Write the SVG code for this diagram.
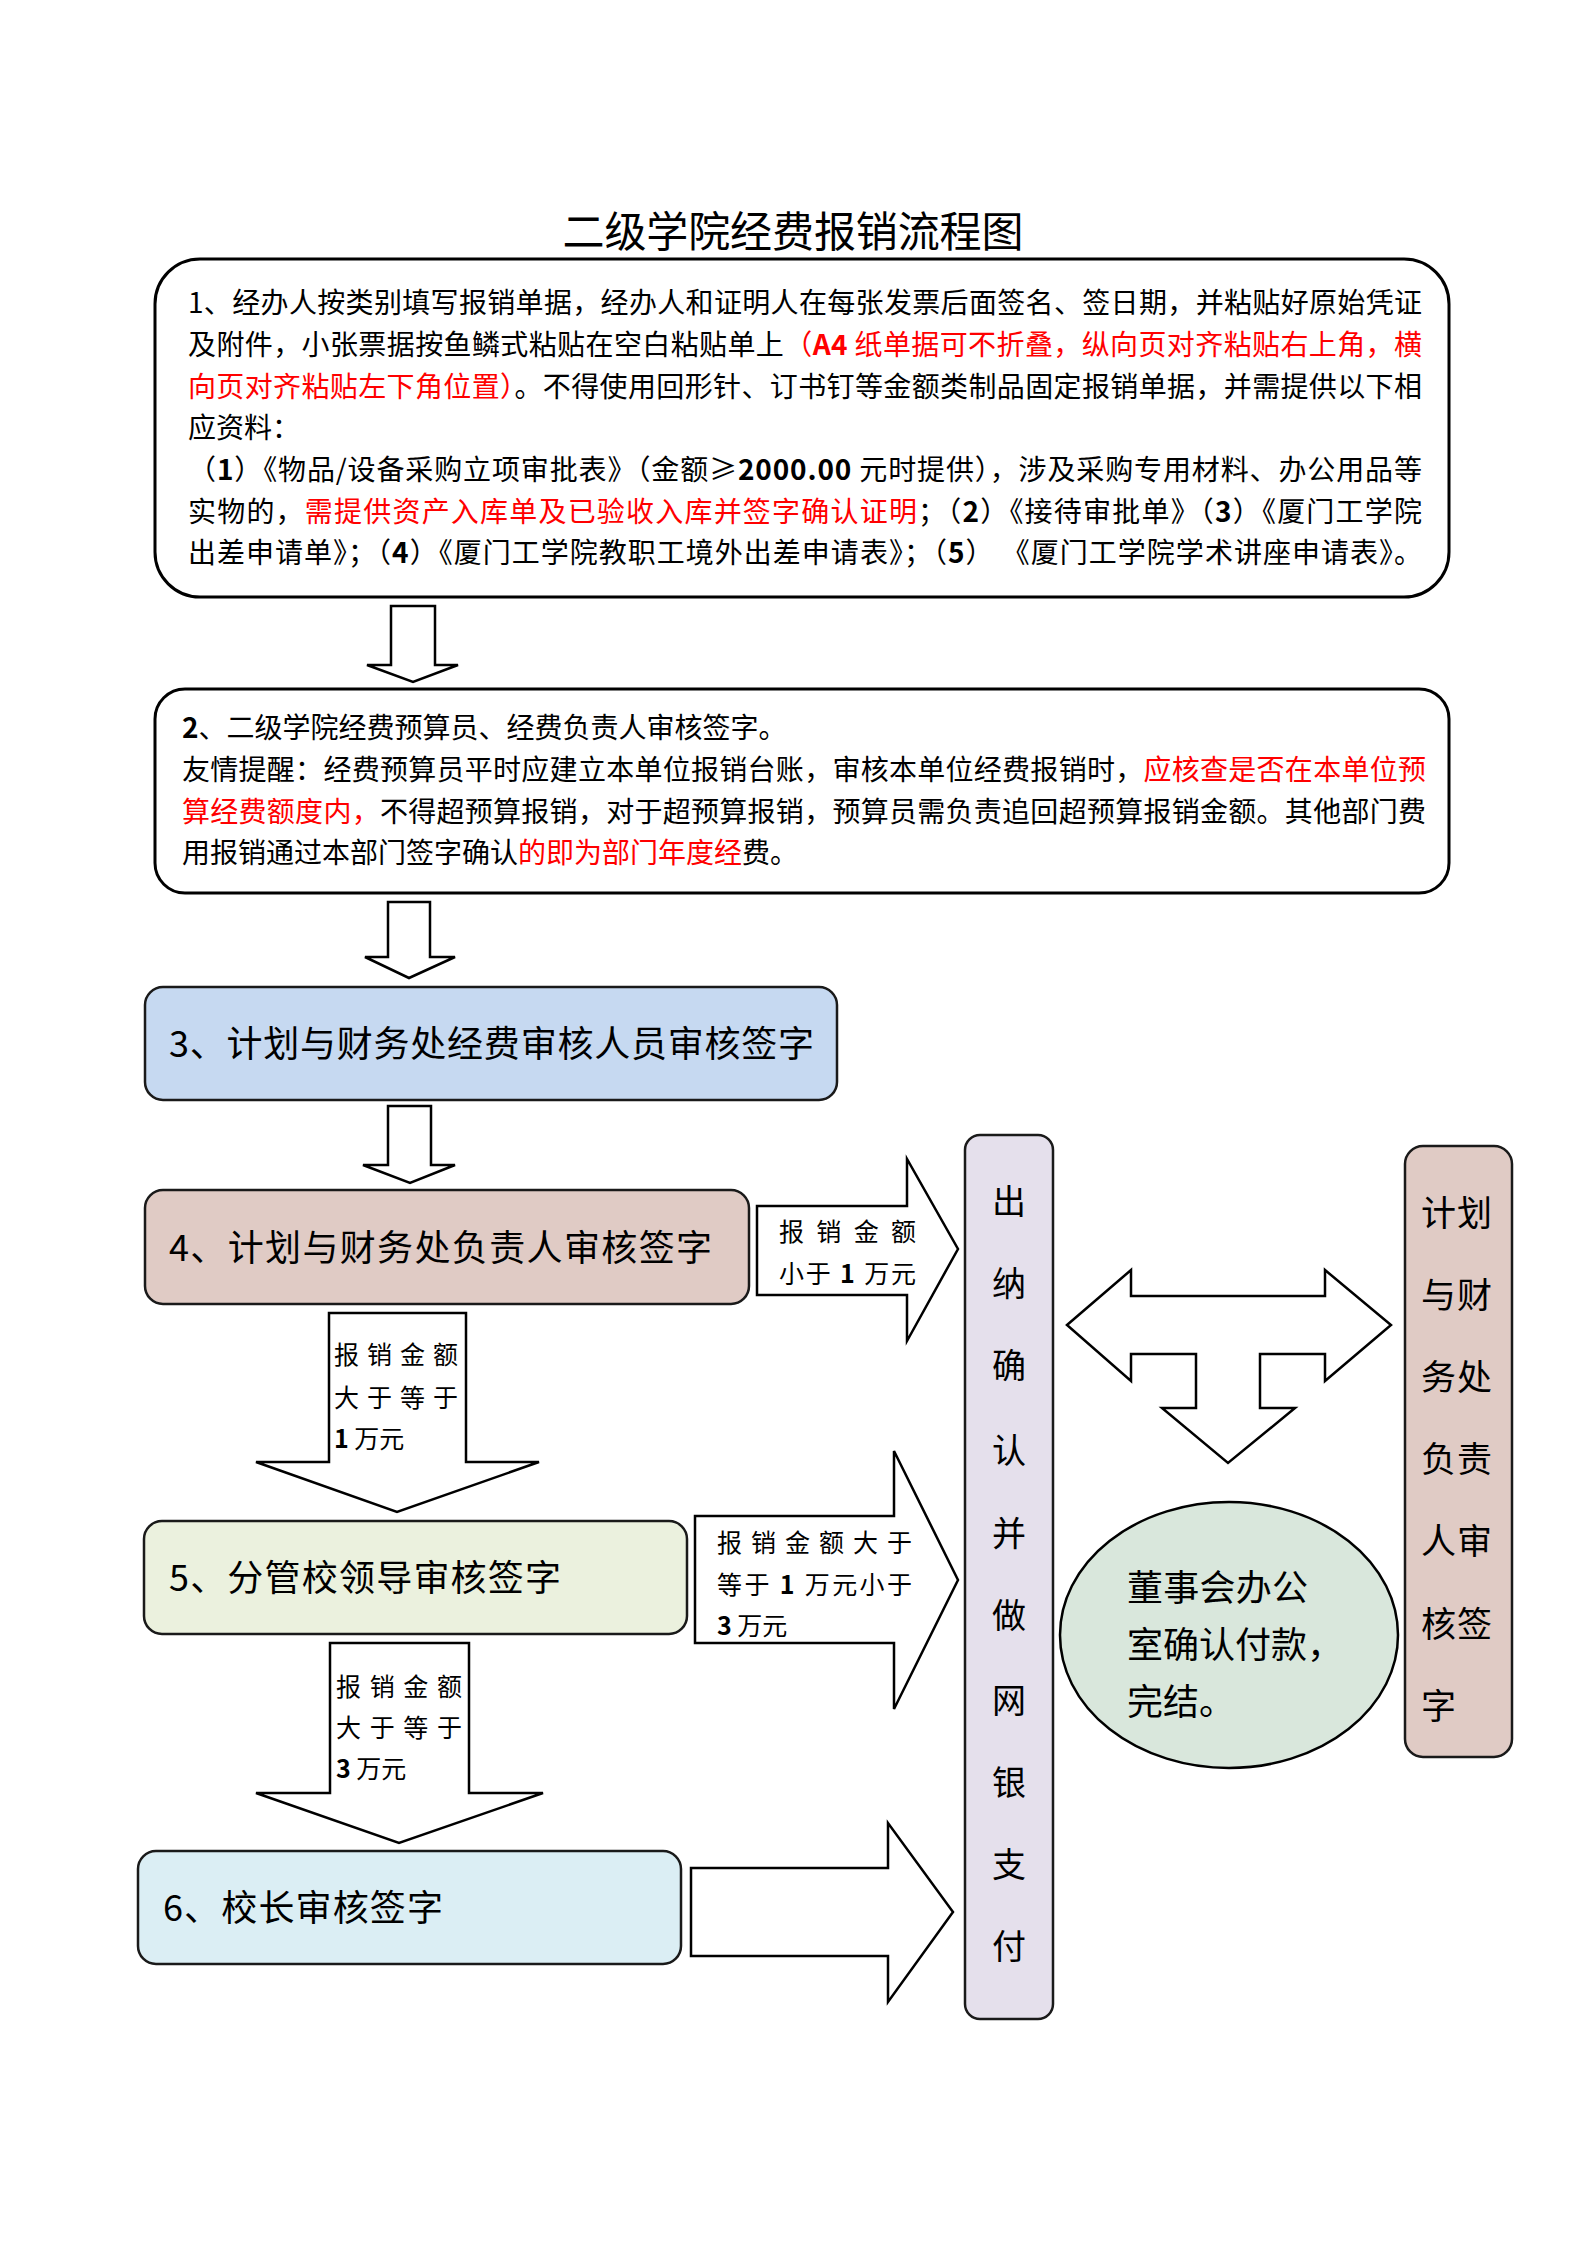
<svg xmlns="http://www.w3.org/2000/svg" width="1587" height="2245" viewBox="0 0 1587 2245">
<style>
.t{font-family:"Noto Sans CJK SC","Noto Sans",sans-serif;fill:#000}
.r{fill:#ff0000}
.b{font-weight:bold}
.body{font-size:28px}
.big{font-size:36px}
.lbl{font-size:25px}
.box{stroke:#000;stroke-width:3;fill:#fff}
.cbox{stroke:#1a1a1a;stroke-width:2.5}
.arr{fill:#fff;stroke:#000;stroke-width:2.5;stroke-linejoin:miter}
</style>
<rect width="1587" height="2245" fill="#fff"/>
<text class="t" x="793" y="247" font-size="42" text-anchor="middle" textLength="461" lengthAdjust="spacing">二级学院经费报销流程图</text>

<g id="node1">
<rect class="box" x="155" y="259" width="1294" height="338" rx="45" ry="45"/>
<text class="t body" x="188" y="313" textLength="1234" lengthAdjust="spacing">1、经办人按类别填写报销单据，经办人和证明人在每张发票后面签名、签日期，并粘贴好原始凭证</text>
<text class="t body" x="188" y="355" textLength="1234" lengthAdjust="spacing">及附件，小张票据按鱼鳞式粘贴在空白粘贴单上<tspan class="r">（<tspan class="b">A4</tspan> 纸单据可不折叠，纵向页对齐粘贴右上角，横</tspan></text>
<text class="t body" x="188" y="397" textLength="1234" lengthAdjust="spacing"><tspan class="r">向页对齐粘贴左下角位置）</tspan>。不得使用回形针、订书钉等金额类制品固定报销单据，并需提供以下相</text>
<text class="t body" x="188" y="438">应资料：</text>
<text class="t body" x="188" y="480" textLength="1234" lengthAdjust="spacing">（<tspan class="b">1</tspan>）《物品/设备采购立项审批表》（金额≥<tspan class="b">2000.00</tspan> 元时提供），涉及采购专用材料、办公用品等</text>
<text class="t body" x="188" y="522" textLength="1234" lengthAdjust="spacing">实物的，<tspan class="r">需提供资产入库单及已验收入库并签字确认证明</tspan>；（<tspan class="b">2</tspan>）《接待审批单》（<tspan class="b">3</tspan>）《厦门工学院</text>
<text class="t body" x="188" y="563" textLength="1234" lengthAdjust="spacing">出差申请单》；（<tspan class="b">4</tspan>）《厦门工学院教职工境外出差申请表》；（<tspan class="b">5</tspan>） 《厦门工学院学术讲座申请表》。</text>
</g>

<g id="node2">
<rect class="box" x="155" y="689" width="1294" height="204" rx="30" ry="30"/>
<text class="t body" x="182" y="738"><tspan class="b">2</tspan>、二级学院经费预算员、经费负责人审核签字。</text>
<text class="t body" x="182" y="780" textLength="1244" lengthAdjust="spacing">友情提醒：经费预算员平时应建立本单位报销台账，审核本单位经费报销时，<tspan class="r">应核查是否在本单位预</tspan></text>
<text class="t body" x="182" y="822" textLength="1244" lengthAdjust="spacing"><tspan class="r">算经费额度内，</tspan>不得超预算报销，对于超预算报销，预算员需负责追回超预算报销金额。其他部门费</text>
<text class="t body" x="182" y="863">用报销通过本部门签字确认<tspan class="r">的即为部门年度经</tspan>费。</text>
</g>

<g id="node3">
<rect class="cbox" x="145" y="987" width="692" height="113" rx="18" ry="18" fill="#c6d9f1"/>
<text class="t big" x="169" y="1057" textLength="645" lengthAdjust="spacing">3、计划与财务处经费审核人员审核签字</text>
</g>

<g id="node4">
<rect class="cbox" x="145" y="1190" width="604" height="114" rx="18" ry="18" fill="#e0cbc5"/>
<text class="t big" x="169" y="1261" textLength="543" lengthAdjust="spacing">4、计划与财务处负责人审核签字</text>
</g>

<g id="node5">
<rect class="cbox" x="144" y="1521" width="543" height="113" rx="18" ry="18" fill="#ebf1de"/>
<text class="t big" x="169" y="1591" textLength="392" lengthAdjust="spacing">5、分管校领导审核签字</text>
</g>

<g id="node6">
<rect class="cbox" x="138" y="1851" width="543" height="113" rx="18" ry="18" fill="#dbeef4"/>
<text class="t big" x="163" y="1921" textLength="280" lengthAdjust="spacing">6、校长审核签字</text>
</g>

<g id="cashier">
<rect class="cbox" x="965" y="1135" width="88" height="884" rx="15" ry="15" fill="#e5e0ec"/>
<g class="t" font-size="34" text-anchor="middle">
<text x="1009" y="1214">出</text>
<text x="1009" y="1296">纳</text>
<text x="1009" y="1378">确</text>
<text x="1009" y="1463">认</text>
<text x="1009" y="1546">并</text>
<text x="1009" y="1628">做</text>
<text x="1009" y="1713">网</text>
<text x="1009" y="1795">银</text>
<text x="1009" y="1877">支</text>
<text x="1009" y="1959">付</text>
</g>
</g>

<g id="finance-head">
<rect class="cbox" x="1405" y="1146" width="107" height="611" rx="18" ry="18" fill="#e0cbc5"/>
<g class="t" font-size="35">
<text x="1421" y="1226" textLength="71" lengthAdjust="spacing">计划</text>
<text x="1421" y="1308" textLength="71" lengthAdjust="spacing">与财</text>
<text x="1421" y="1390" textLength="71" lengthAdjust="spacing">务处</text>
<text x="1421" y="1472" textLength="71" lengthAdjust="spacing">负责</text>
<text x="1421" y="1554" textLength="71" lengthAdjust="spacing">人审</text>
<text x="1421" y="1637" textLength="71" lengthAdjust="spacing">核签</text>
<text x="1421" y="1719">字</text>
</g>
</g>

<g id="board">
<ellipse cx="1229" cy="1635" rx="169" ry="133" fill="#d9e7dc" stroke="#000" stroke-width="2.5"/>
<g class="t" font-size="36">
<text x="1127" y="1601" textLength="181" lengthAdjust="spacing">董事会办公</text>
<text x="1127" y="1658">室确认付款，</text>
<text x="1127" y="1715">完结。</text>
</g>
</g>

<g id="connectors">
<polygon class="arr" points="391,606 435,606 435,665 458,665 413,682 367,665 391,665"/>
<polygon class="arr" points="388,902 430,902 430,957 455,957 409,978 365,957 388,957"/>
<polygon class="arr" points="388,1106 431,1106 431,1165 455,1165 410,1183 363,1165 388,1165"/>
<polygon class="arr" points="757,1206 907,1206 907,1159 958,1249 907,1341 907,1295 757,1295"/>
<polygon class="arr" points="329,1313 466,1313 466,1462 539,1462 397,1512 256,1462 329,1462"/>
<polygon class="arr" points="695,1516 894,1516 894,1451 958,1580 894,1709 894,1643 695,1643"/>
<polygon class="arr" points="330,1643 469,1643 469,1793 543,1793 399,1843 256,1793 330,1793"/>
<polygon class="arr" points="691,1868 888,1868 888,1823 953,1912 888,2002 888,1956 691,1956"/>
<polygon class="arr" points="1067,1325 1131,1270 1131,1296 1325,1296 1325,1270 1391,1325 1325,1381 1325,1354 1260,1354 1260,1408 1295,1408 1228,1463 1162,1408 1196,1408 1196,1354 1131,1354 1131,1381"/>
<g class="t lbl">
<text x="779" y="1241" textLength="137" lengthAdjust="spacing">报销金额</text>
<text x="779" y="1283" textLength="137" lengthAdjust="spacing">小于 <tspan class="b">1</tspan> 万元</text>
<text x="334" y="1364" textLength="124" lengthAdjust="spacing">报销金额</text>
<text x="334" y="1407" textLength="124" lengthAdjust="spacing">大于等于</text>
<text x="334" y="1448"><tspan class="b">1</tspan> 万元</text>
<text x="717" y="1552" textLength="195" lengthAdjust="spacing">报销金额大于</text>
<text x="717" y="1594" textLength="195" lengthAdjust="spacing">等于 <tspan class="b">1</tspan> 万元小于</text>
<text x="717" y="1635"><tspan class="b">3</tspan> 万元</text>
<text x="336" y="1696" textLength="126" lengthAdjust="spacing">报销金额</text>
<text x="336" y="1737" textLength="126" lengthAdjust="spacing">大于等于</text>
<text x="336" y="1778"><tspan class="b">3</tspan> 万元</text>
</g>
</g>
</svg>
